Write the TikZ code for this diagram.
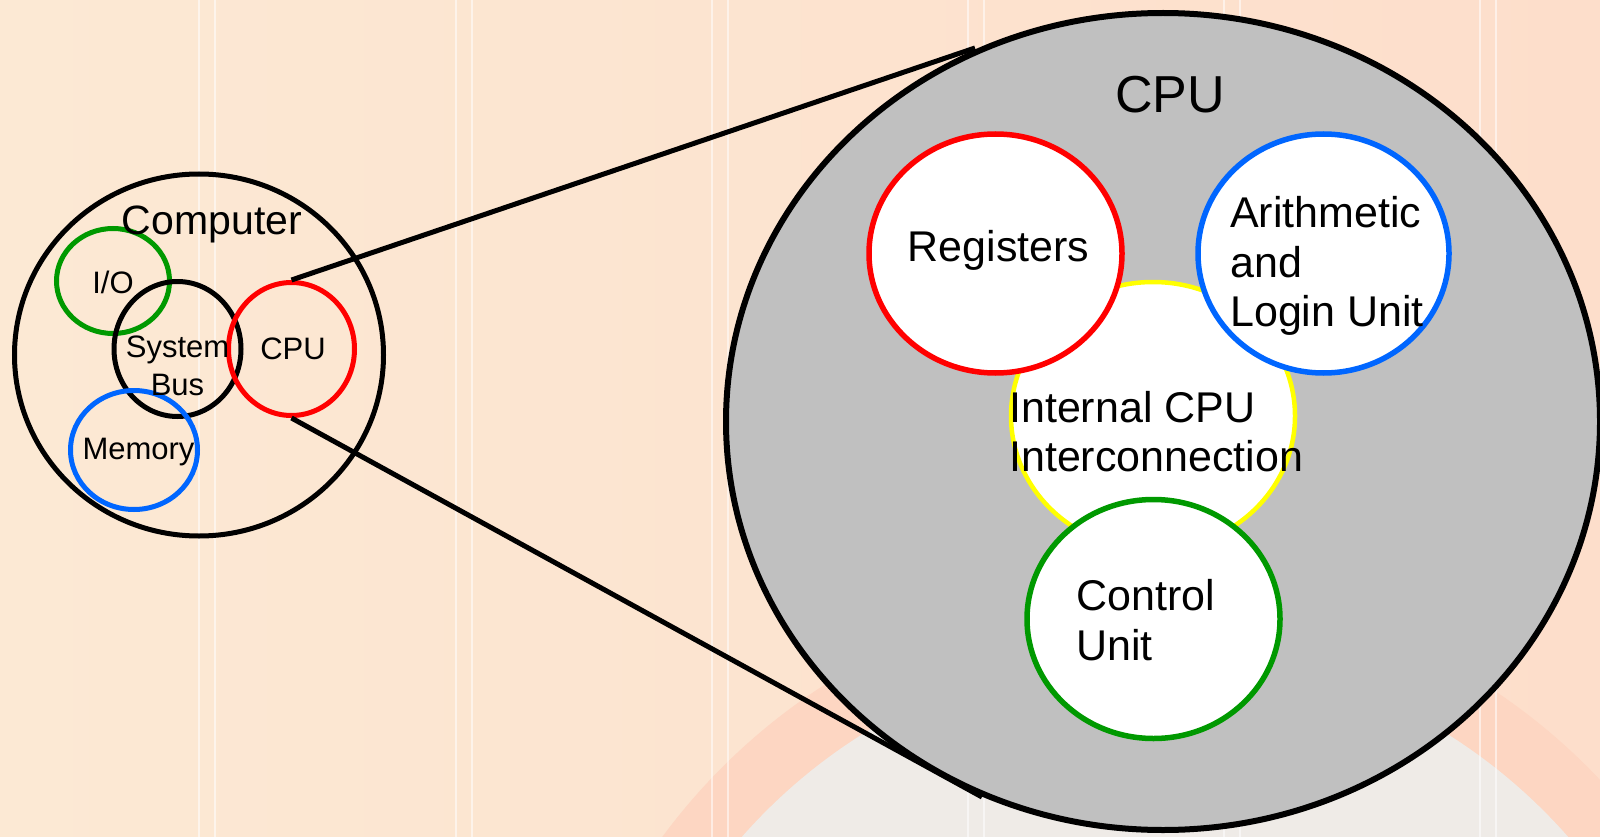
\documentclass[tikz,border=0pt]{standalone}
\usepackage{fontspec}
\setmainfont{Liberation Sans}
\usetikzlibrary{shapes.geometric}

\definecolor{bgleft}{RGB}{252,233,212}
\definecolor{bgright}{RGB}{253,222,203}
\definecolor{palebg}{RGB}{239,235,231}
\definecolor{ringbg}{RGB}{253,214,194}
\definecolor{hatchgray}{RGB}{192,192,192}
\definecolor{ppred}{RGB}{255,0,0}
\definecolor{ppgreen}{RGB}{0,153,0}
\definecolor{ppblue}{RGB}{0,102,255}
\definecolor{ppyellow}{RGB}{255,255,0}

\begin{document}
\begin{tikzpicture}[x=1pt,y=-1pt,
  oval/.style={ellipse, inner sep=0pt, line width=5pt},
  unit/.style={ellipse, inner sep=0pt, line width=5.5pt, fill=white},
  small/.style={inner sep=0pt, font=\fontsize{31}{36}\selectfont},
  medium/.style={inner sep=0pt, font=\fontsize{41}{48}\selectfont},
  large/.style={inner sep=0pt, font=\fontsize{43}{50}\selectfont},
  huge/.style={inner sep=0pt, font=\fontsize{52}{60}\selectfont},
  zoomline/.style={line width=5pt},
  stripe/.style={white, opacity=0.55, line width=2pt}]

\useasboundingbox (0,0) rectangle (1600,837);

% slide background
\shade[left color=bgleft, right color=bgright] (0,0) rectangle (1600,837);
\begin{scope}
  \clip (0,0) rectangle (1600,837);
  \fill[ringbg] (1155,1200) circle[radius=612];
  \fill[palebg] (1155,1200) circle[radius=550];
\end{scope}
\foreach \sx in {199,456,712,968,1224,1480} {
  \draw[stripe] (\sx,0) -- (\sx,837);
  \draw[stripe] (\sx+16,0) -- (\sx+16,837);
}

% the computer and its parts
\node[oval, draw=black, minimum width=369pt, minimum height=362pt] (computer) at (199,355) {};
\node[oval, draw=ppgreen, minimum width=113pt, minimum height=105pt] (io) at (113,281) {};
\node[oval, draw=black, minimum width=127pt, minimum height=135pt] (bus) at (177.5,349) {};
\node[oval, draw=ppred, minimum width=126pt, minimum height=133pt] (cpu) at (291.5,349) {};
\node[oval, draw=ppblue, minimum width=127pt, minimum height=119pt] (memory) at (134,450) {};

\node[medium, anchor=base] (computerlbl) at (212,234) {Computer};
\node[small, anchor=base] (iolbl) at (113,293) {I/O};
\node[small, anchor=base] (buslbl1) at (177.5,357) {System};
\node[small, anchor=base] (buslbl2) at (177.5,395) {Bus};
\node[small, anchor=base] (cpulbl) at (293,359) {CPU};
\node[small, anchor=base] (memorylbl) at (138.5,459) {Memory};

% the enlarged CPU
\node[ellipse, inner sep=0pt, line width=6pt, draw=black, fill=hatchgray,
      minimum width=874pt, minimum height=817pt] (bigcpu) at (1163,421.5) {};
\node[unit, draw=ppyellow, line width=4.5pt, minimum width=284pt, minimum height=268pt] (interconnect) at (1153,416) {};
\node[unit, draw=ppred, minimum width=253pt, minimum height=239pt] (registers) at (995.5,253.5) {};
\node[unit, draw=ppblue, minimum width=251pt, minimum height=239pt] (alu) at (1323.5,253.5) {};
\node[unit, draw=ppgreen, minimum width=253pt, minimum height=239pt] (control) at (1153.5,619) {};

\node[huge, anchor=base] (bigcpulbl) at (1170,113) {CPU};
\node[large, anchor=base] (registerslbl) at (998.5,261.5) {Registers};
\node[large, anchor=base west] (alulbl1) at (1230,227) {Arithmetic};
\node[large, anchor=base west] (alulbl2) at (1230,277.5) {and};
\node[large, anchor=base west] (alulbl3) at (1230,326.5) {Login Unit};
\node[large, anchor=base west] (interlbl1) at (1009,422) {Internal CPU};
\node[large, anchor=base west] (interlbl2) at (1009,471) {Interconnection};
\node[large, anchor=base west] (controllbl1) at (1076,610) {Control};
\node[large, anchor=base west] (controllbl2) at (1076,660.5) {Unit};

% zoom lines from the small CPU to the enlarged one
\coordinate (uppertouch) at (975,48);
\coordinate (lowertouch) at (982,797);
\draw[zoomline] (cpu.north) -- (uppertouch);
\draw[zoomline] (cpu.south) -- (lowertouch);

\end{tikzpicture}
\end{document}
